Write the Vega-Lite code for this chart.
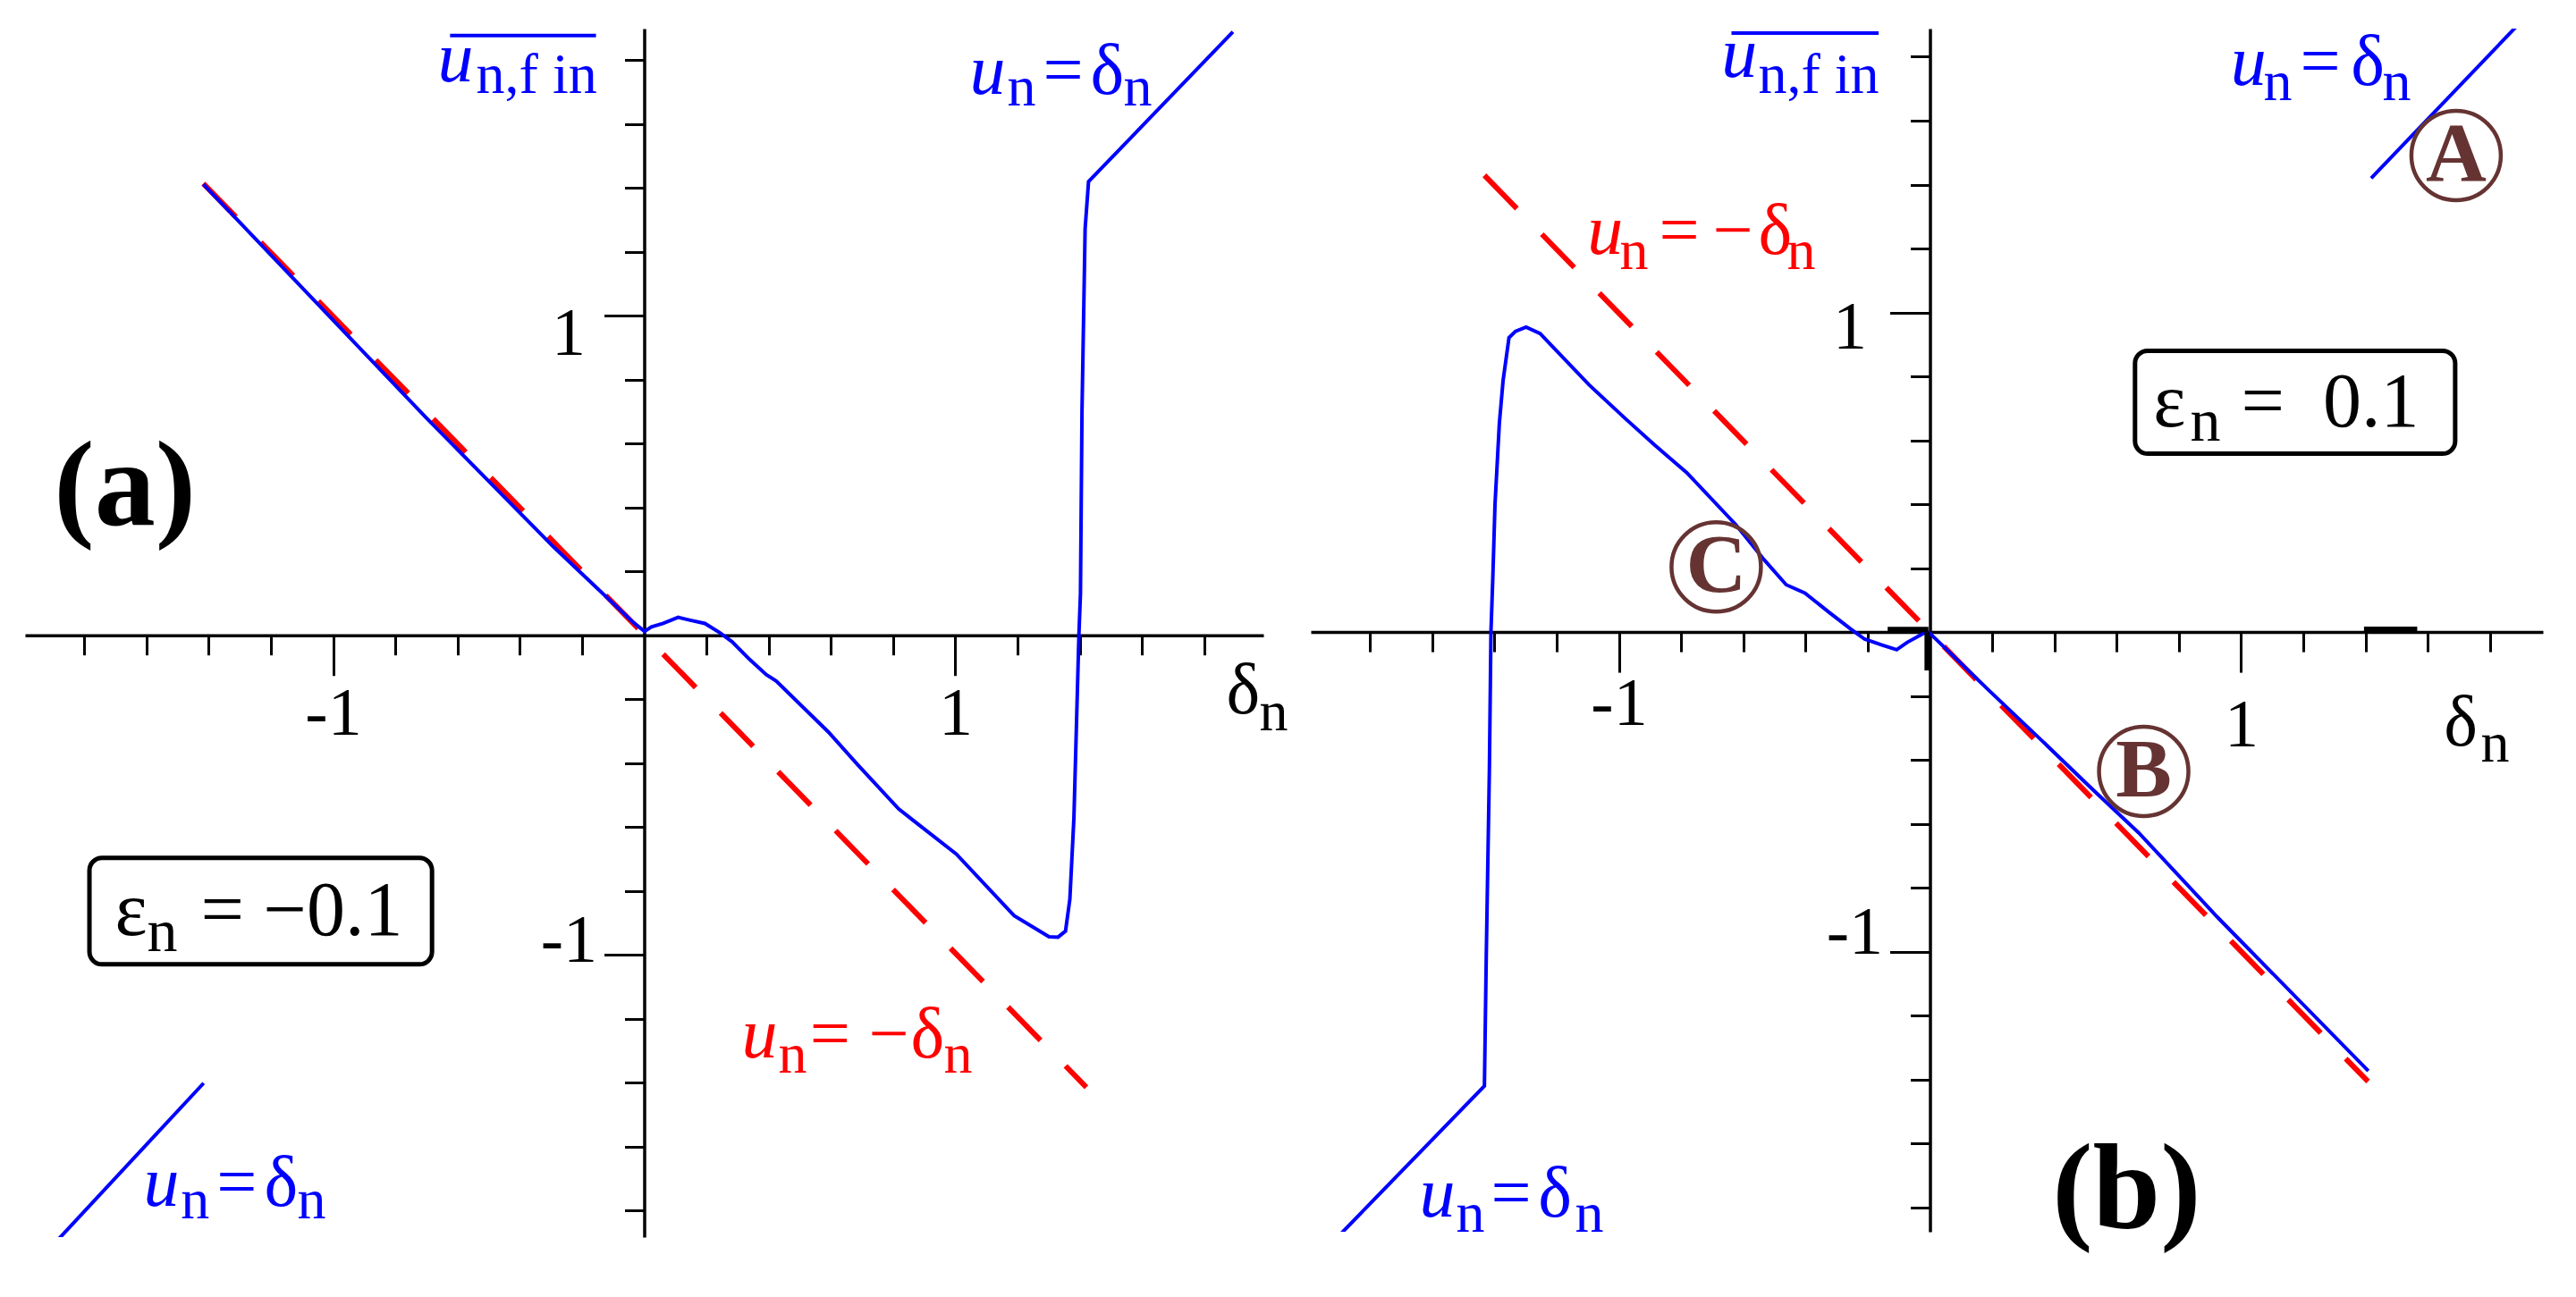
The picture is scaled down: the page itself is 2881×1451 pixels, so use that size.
{
  "$schema": "https://vega.github.io/schema/vega-lite/v6.json",
  "background": "white",
  "padding": {"left": 28, "top": 4, "right": 5, "bottom": 5},
  "spacing": 53,
  "bounds": "flush",
  "config": {
    "view": {"stroke": null},
    "axis": {"domainColor": "#000000", "domainWidth": 3.5, "tickColor": "#000000", "tickWidth": 3, "labelFont": "Liberation Serif", "labelFontSize": 76, "labelColor": "#000000", "labelOverlap": false, "labelBound": false, "labelFlush": false, "grid": false},
    "text": {"font": "Liberation Serif"}
  },
  "datasets": {
    "curves": [
      {"p": "a", "s": "a1", "i": 1, "d": -1.417, "u": 1.412},
      {"p": "a", "s": "a1", "i": 2, "d": -0.7, "u": 0.68},
      {"p": "a", "s": "a1", "i": 3, "d": -0.293, "u": 0.278},
      {"p": "a", "s": "a1", "i": 4, "d": -0.035, "u": 0.04},
      {"p": "a", "s": "a1", "i": 5, "d": 0.001, "u": 0.012},
      {"p": "a", "s": "a1", "i": 6, "d": 0.023, "u": 0.026},
      {"p": "a", "s": "a1", "i": 7, "d": 0.061, "u": 0.037},
      {"p": "a", "s": "a1", "i": 8, "d": 0.109, "u": 0.056},
      {"p": "a", "s": "a1", "i": 9, "d": 0.148, "u": 0.047},
      {"p": "a", "s": "a1", "i": 10, "d": 0.195, "u": 0.037},
      {"p": "a", "s": "a1", "i": 11, "d": 0.243, "u": 0.008},
      {"p": "a", "s": "a1", "i": 12, "d": 0.282, "u": -0.02},
      {"p": "a", "s": "a1", "i": 13, "d": 0.339, "u": -0.076},
      {"p": "a", "s": "a1", "i": 14, "d": 0.392, "u": -0.123},
      {"p": "a", "s": "a1", "i": 15, "d": 0.424, "u": -0.143},
      {"p": "a", "s": "a1", "i": 16, "d": 0.592, "u": -0.303},
      {"p": "a", "s": "a1", "i": 17, "d": 0.685, "u": -0.404},
      {"p": "a", "s": "a1", "i": 18, "d": 0.818, "u": -0.544},
      {"p": "a", "s": "a1", "i": 19, "d": 1.003, "u": -0.685},
      {"p": "a", "s": "a1", "i": 20, "d": 1.189, "u": -0.878},
      {"p": "a", "s": "a1", "i": 21, "d": 1.301, "u": -0.944},
      {"p": "a", "s": "a1", "i": 22, "d": 1.33, "u": -0.945},
      {"p": "a", "s": "a1", "i": 23, "d": 1.354, "u": -0.926},
      {"p": "a", "s": "a1", "i": 24, "d": 1.368, "u": -0.826},
      {"p": "a", "s": "a1", "i": 25, "d": 1.381, "u": -0.571},
      {"p": "a", "s": "a1", "i": 26, "d": 1.397, "u": 0.0},
      {"p": "a", "s": "a1", "i": 27, "d": 1.402, "u": 0.129},
      {"p": "a", "s": "a1", "i": 28, "d": 1.407, "u": 0.704},
      {"p": "a", "s": "a1", "i": 29, "d": 1.417, "u": 1.273},
      {"p": "a", "s": "a1", "i": 30, "d": 1.428, "u": 1.42},
      {"p": "a", "s": "a1", "i": 31, "d": 1.892, "u": 1.889},
      {"p": "a", "s": "a2", "i": 1, "d": -1.883, "u": -1.891},
      {"p": "a", "s": "a2", "i": 2, "d": -1.416, "u": -1.402},
      {"p": "b", "s": "b1", "i": 1, "d": -1.896, "u": -1.885},
      {"p": "b", "s": "b1", "i": 2, "d": -1.432, "u": -1.42},
      {"p": "b", "s": "b1", "i": 3, "d": -1.426, "u": -1.011},
      {"p": "b", "s": "b1", "i": 4, "d": -1.416, "u": -0.429},
      {"p": "b", "s": "b1", "i": 5, "d": -1.411, "u": 0.0},
      {"p": "b", "s": "b1", "i": 6, "d": -1.405, "u": 0.171},
      {"p": "b", "s": "b1", "i": 7, "d": -1.398, "u": 0.399},
      {"p": "b", "s": "b1", "i": 8, "d": -1.384, "u": 0.653},
      {"p": "b", "s": "b1", "i": 9, "d": -1.372, "u": 0.787},
      {"p": "b", "s": "b1", "i": 10, "d": -1.353, "u": 0.921},
      {"p": "b", "s": "b1", "i": 11, "d": -1.332, "u": 0.941},
      {"p": "b", "s": "b1", "i": 12, "d": -1.298, "u": 0.954},
      {"p": "b", "s": "b1", "i": 13, "d": -1.253, "u": 0.934},
      {"p": "b", "s": "b1", "i": 14, "d": -1.201, "u": 0.881},
      {"p": "b", "s": "b1", "i": 15, "d": -1.096, "u": 0.774},
      {"p": "b", "s": "b1", "i": 16, "d": -0.978, "u": 0.667},
      {"p": "b", "s": "b1", "i": 17, "d": -0.886, "u": 0.586},
      {"p": "b", "s": "b1", "i": 18, "d": -0.782, "u": 0.499},
      {"p": "b", "s": "b1", "i": 19, "d": -0.624, "u": 0.336},
      {"p": "b", "s": "b1", "i": 20, "d": -0.532, "u": 0.225},
      {"p": "b", "s": "b1", "i": 21, "d": -0.462, "u": 0.148},
      {"p": "b", "s": "b1", "i": 22, "d": -0.402, "u": 0.122},
      {"p": "b", "s": "b1", "i": 23, "d": -0.323, "u": 0.061},
      {"p": "b", "s": "b1", "i": 24, "d": -0.255, "u": 0.01},
      {"p": "b", "s": "b1", "i": 25, "d": -0.21, "u": -0.022},
      {"p": "b", "s": "b1", "i": 26, "d": -0.152, "u": -0.041},
      {"p": "b", "s": "b1", "i": 27, "d": -0.107, "u": -0.055},
      {"p": "b", "s": "b1", "i": 28, "d": -0.073, "u": -0.032},
      {"p": "b", "s": "b1", "i": 29, "d": -0.011, "u": 0.001},
      {"p": "b", "s": "b1", "i": 30, "d": 0.0, "u": -0.004},
      {"p": "b", "s": "b1", "i": 31, "d": 0.188, "u": -0.181},
      {"p": "b", "s": "b1", "i": 32, "d": 0.359, "u": -0.339},
      {"p": "b", "s": "b1", "i": 33, "d": 0.529, "u": -0.498},
      {"p": "b", "s": "b1", "i": 34, "d": 0.671, "u": -0.628},
      {"p": "b", "s": "b1", "i": 35, "d": 0.923, "u": -0.891},
      {"p": "b", "s": "b1", "i": 36, "d": 1.409, "u": -1.373},
      {"p": "b", "s": "b2", "i": 1, "d": 1.418, "u": 1.42},
      {"p": "b", "s": "b2", "i": 2, "d": 1.89, "u": 1.9}
    ],
    "red": [
      {"p": "a", "i": 1, "d": -1.417, "u": 1.414},
      {"p": "a", "i": 2, "d": 1.421, "u": -1.415},
      {"p": "b", "i": 1, "d": -1.432, "u": 1.429},
      {"p": "b", "i": 2, "d": 1.408, "u": -1.406}
    ],
    "marks": [
      {"p": "b", "s": "h1", "i": 1, "d": -0.136, "u": 0.008},
      {"p": "b", "s": "h1", "i": 2, "d": -0.005, "u": 0.008},
      {"p": "b", "s": "v1", "i": 1, "d": -0.009, "u": 0.0},
      {"p": "b", "s": "v1", "i": 2, "d": -0.009, "u": -0.12},
      {"p": "b", "s": "h2", "i": 1, "d": 1.395, "u": 0.009},
      {"p": "b", "s": "h2", "i": 2, "d": 1.566, "u": 0.009}
    ],
    "boxes": [
      {"p": "a", "x": -1.783, "x2": -0.682, "y": -0.697, "y2": -1.03},
      {"p": "b", "x": 0.659, "x2": 1.688, "y": 0.88, "y2": 0.558}
    ],
    "overlines": [
      {"p": "a", "x": -0.624, "x2": -0.155, "y": 1.877},
      {"p": "b", "x": -0.638, "x2": -0.165, "y": 1.874}
    ],
    "texts": [
      {"p": "a", "f": "it", "r": "main", "g": "curve", "t": "u", "x": -0.664, "y": 1.734},
      {"p": "a", "f": "rm", "r": "sub", "g": "curve", "t": "n,f in", "x": -0.54, "y": 1.698},
      {"p": "a", "f": "it", "r": "main", "g": "curve", "t": "u", "x": 1.046, "y": 1.695},
      {"p": "a", "f": "rm", "r": "sub", "g": "curve", "t": "n", "x": 1.167, "y": 1.659},
      {"p": "a", "f": "rm", "r": "main", "g": "curve", "t": "=", "x": 1.282, "y": 1.695},
      {"p": "a", "f": "rm", "r": "main", "g": "curve", "t": "δ", "x": 1.434, "y": 1.695},
      {"p": "a", "f": "rm", "r": "sub", "g": "curve", "t": "n", "x": 1.54, "y": 1.659},
      {"p": "a", "f": "it", "r": "main", "g": "curve", "t": "u", "x": -1.609, "y": -1.785},
      {"p": "a", "f": "rm", "r": "sub", "g": "curve", "t": "n", "x": -1.489, "y": -1.824},
      {"p": "a", "f": "rm", "r": "main", "g": "curve", "t": "=", "x": -1.374, "y": -1.785},
      {"p": "a", "f": "rm", "r": "main", "g": "curve", "t": "δ", "x": -1.221, "y": -1.785},
      {"p": "a", "f": "rm", "r": "sub", "g": "curve", "t": "n", "x": -1.115, "y": -1.824},
      {"p": "a", "f": "it", "r": "main", "g": "minus", "t": "u", "x": 0.313, "y": -1.322},
      {"p": "a", "f": "rm", "r": "sub", "g": "minus", "t": "n", "x": 0.431, "y": -1.368},
      {"p": "a", "f": "rm", "r": "main", "g": "minus", "t": "=", "x": 0.532, "y": -1.322},
      {"p": "a", "f": "rm", "r": "main", "g": "minus", "t": "−", "x": 0.721, "y": -1.322},
      {"p": "a", "f": "rm", "r": "main", "g": "minus", "t": "δ", "x": 0.856, "y": -1.322},
      {"p": "a", "f": "rm", "r": "sub", "g": "minus", "t": "n", "x": 0.963, "y": -1.368},
      {"p": "a", "f": "rm", "r": "main", "g": "note", "t": "δ", "x": 1.871, "y": -0.243},
      {"p": "a", "f": "rm", "r": "sub", "g": "note", "t": "n", "x": 1.977, "y": -0.297},
      {"p": "a", "f": "rm", "r": "box", "g": "note", "t": "ε", "x": -1.701, "y": -0.939},
      {"p": "a", "f": "rm", "r": "boxsub", "g": "note", "t": "n", "x": -1.598, "y": -0.99},
      {"p": "a", "f": "rm", "r": "box", "g": "note", "t": "= −0.1", "x": -1.425, "y": -0.939},
      {"p": "a", "f": "bf", "r": "big", "g": "note", "t": "(a)", "x": -1.897, "y": 0.345},
      {"p": "b", "f": "it", "r": "main", "g": "curve", "t": "u", "x": -0.67, "y": 1.737},
      {"p": "b", "f": "rm", "r": "sub", "g": "curve", "t": "n,f in", "x": -0.552, "y": 1.687},
      {"p": "b", "f": "it", "r": "main", "g": "curve", "t": "u", "x": 0.966, "y": 1.712},
      {"p": "b", "f": "rm", "r": "sub", "g": "curve", "t": "n", "x": 1.072, "y": 1.665},
      {"p": "b", "f": "rm", "r": "main", "g": "curve", "t": "=", "x": 1.19, "y": 1.712},
      {"p": "b", "f": "rm", "r": "main", "g": "curve", "t": "δ", "x": 1.353, "y": 1.712},
      {"p": "b", "f": "rm", "r": "sub", "g": "curve", "t": "n", "x": 1.454, "y": 1.665},
      {"p": "b", "f": "it", "r": "main", "g": "curve", "t": "u", "x": -1.641, "y": -1.828},
      {"p": "b", "f": "rm", "r": "sub", "g": "curve", "t": "n", "x": -1.523, "y": -1.876},
      {"p": "b", "f": "rm", "r": "main", "g": "curve", "t": "=", "x": -1.411, "y": -1.828},
      {"p": "b", "f": "rm", "r": "main", "g": "curve", "t": "δ", "x": -1.259, "y": -1.828},
      {"p": "b", "f": "rm", "r": "sub", "g": "curve", "t": "n", "x": -1.141, "y": -1.876},
      {"p": "b", "f": "it", "r": "main", "g": "minus", "t": "u", "x": -1.101, "y": 1.182},
      {"p": "b", "f": "rm", "r": "sub", "g": "minus", "t": "n", "x": -0.997, "y": 1.136},
      {"p": "b", "f": "rm", "r": "main", "g": "minus", "t": "=", "x": -0.871, "y": 1.182},
      {"p": "b", "f": "rm", "r": "main", "g": "minus", "t": "−", "x": -0.698, "y": 1.182},
      {"p": "b", "f": "rm", "r": "main", "g": "minus", "t": "δ", "x": -0.552, "y": 1.182},
      {"p": "b", "f": "rm", "r": "sub", "g": "minus", "t": "n", "x": -0.46, "y": 1.136},
      {"p": "b", "f": "rm", "r": "main", "g": "note", "t": "δ", "x": 1.652, "y": -0.355},
      {"p": "b", "f": "rm", "r": "sub", "g": "note", "t": "n", "x": 1.77, "y": -0.406},
      {"p": "b", "f": "rm", "r": "box", "g": "note", "t": "ε", "x": 0.718, "y": 0.644},
      {"p": "b", "f": "rm", "r": "boxsub", "g": "note", "t": "n", "x": 0.836, "y": 0.599},
      {"p": "b", "f": "rm", "r": "box", "g": "note", "t": "=\u00a0\u00a00.1", "x": 1.0, "y": 0.644},
      {"p": "b", "f": "bf", "r": "big", "g": "note", "t": "(b)", "x": 0.393, "y": -1.863},
      {"p": "b", "f": "mk", "r": "mark", "g": "mark", "t": "A", "x": 1.691, "y": 1.491},
      {"p": "b", "f": "mk", "r": "mark", "g": "mark", "t": "C", "x": -0.687, "y": 0.204},
      {"p": "b", "f": "mk", "r": "mark", "g": "mark", "t": "B", "x": 0.687, "y": -0.436}
    ]
  },
  "hconcat": [
    {
      "width": 1385,
      "height": 1352,
      "layer": [
        {
          "data": {"name": "red"},
          "transform": [{"filter": "datum.p == 'a'"}],
          "mark": {"type": "line", "color": "#ff0000", "strokeWidth": 6, "strokeDash": [52, 40], "clip": true},
          "encoding": {
            "x": {"field": "d", "type": "quantitative", "scale": {"domain": [-1.99, 1.99], "nice": false, "zero": false},
              "axis": {"orient": "bottom", "offset": -673.3, "values": [-1.8, -1.6, -1.4, -1.2, -1, -0.8, -0.6, -0.4, -0.2, 0.2, 0.4, 0.6, 0.8, 1, 1.2, 1.4, 1.6, 1.8],
                "tickSize": {"condition": {"test": "abs(datum.value) == 1", "value": 45}, "value": 22},
                "labelExpr": "datum.value == 1 ? '1' : (datum.value == -1 ? '-1' : '')", "labelPadding": 6, "title": null}},
            "y": {"field": "u", "type": "quantitative", "scale": {"domain": [-1.884, 1.899], "nice": false, "zero": false},
              "axis": {"orient": "left", "offset": -692.5, "values": [-1.8, -1.6, -1.4, -1.2, -1, -0.8, -0.6, -0.4, -0.2, 0.2, 0.4, 0.6, 0.8, 1, 1.2, 1.4, 1.6, 1.8],
                "tickSize": {"condition": {"test": "abs(datum.value) == 1", "value": 45}, "value": 22},
                "labelExpr": "datum.value == 1 ? '1' : (datum.value == -1 ? '-1' : '')",
                "labelBaseline": "alphabetic",
                "labelOffset": {"condition": {"test": "datum.value == 1", "value": 43}, "value": 7},
                "labelPadding": {"condition": {"test": "datum.value == 1", "value": 21}, "value": 8},
                "title": null}},
            "order": {"field": "i", "type": "quantitative"}
          }
        },
        {
          "data": {"name": "boxes"},
          "transform": [{"filter": "datum.p == 'a'"}],
          "mark": {"type": "rect", "fill": "white", "stroke": "#000000", "strokeWidth": 5, "cornerRadius": 14},
          "encoding": {
            "x": {"field": "x", "type": "quantitative", "scale": {"domain": [-1.99, 1.99], "nice": false, "zero": false}},
            "x2": {"field": "x2"},
            "y": {"field": "y", "type": "quantitative", "scale": {"domain": [-1.884, 1.899], "nice": false, "zero": false}},
            "y2": {"field": "y2"}
          }
        },
        {
          "data": {"name": "curves"},
          "transform": [{"filter": "datum.p == 'a'"}],
          "mark": {"type": "line", "color": "#0000ff", "strokeWidth": 4, "clip": true},
          "encoding": {
            "x": {"field": "d", "type": "quantitative", "scale": {"domain": [-1.99, 1.99], "nice": false, "zero": false}},
            "y": {"field": "u", "type": "quantitative", "scale": {"domain": [-1.884, 1.899], "nice": false, "zero": false}},
            "detail": {"field": "s"},
            "order": {"field": "i", "type": "quantitative"}
          }
        },
        {
          "data": {"name": "overlines"},
          "transform": [{"filter": "datum.p == 'a'"}],
          "mark": {"type": "rule", "color": "#0000ff", "strokeWidth": 4},
          "encoding": {
            "x": {"field": "x", "type": "quantitative", "scale": {"domain": [-1.99, 1.99], "nice": false, "zero": false}},
            "x2": {"field": "x2"},
            "y": {"field": "y", "type": "quantitative", "scale": {"domain": [-1.884, 1.899], "nice": false, "zero": false}}
          }
        },
        {
          "data": {"name": "texts"},
          "transform": [{"filter": "datum.p == 'a' && datum.f == 'it'"}],
          "mark": {"type": "text", "font": "Liberation Serif", "fontStyle": "italic", "align": "left", "baseline": "alphabetic"},
          "encoding": {
            "x": {"field": "x", "type": "quantitative", "scale": {"domain": [-1.99, 1.99], "nice": false, "zero": false}},
            "y": {"field": "y", "type": "quantitative", "scale": {"domain": [-1.884, 1.899], "nice": false, "zero": false}},
            "text": {"field": "t"},
            "size": {"field": "r", "type": "nominal", "scale": {"type": "ordinal", "domain": ["main", "sub", "box", "boxsub", "big", "mark"], "range": [80, 64, 86, 68, 136, 94]}, "legend": null},
            "color": {"field": "g", "type": "nominal", "scale": {"domain": ["curve", "minus", "note", "mark"], "range": ["#0000ff", "#ff0000", "#000000", "#663333"]}, "legend": null}
          }
        },
        {
          "data": {"name": "texts"},
          "transform": [{"filter": "datum.p == 'a' && datum.f == 'rm'"}],
          "mark": {"type": "text", "font": "Liberation Serif", "align": "left", "baseline": "alphabetic"},
          "encoding": {
            "x": {"field": "x", "type": "quantitative", "scale": {"domain": [-1.99, 1.99], "nice": false, "zero": false}},
            "y": {"field": "y", "type": "quantitative", "scale": {"domain": [-1.884, 1.899], "nice": false, "zero": false}},
            "text": {"field": "t"},
            "size": {"field": "r", "type": "nominal", "scale": {"type": "ordinal", "domain": ["main", "sub", "box", "boxsub", "big", "mark"], "range": [80, 64, 86, 68, 136, 94]}, "legend": null},
            "color": {"field": "g", "type": "nominal", "scale": {"domain": ["curve", "minus", "note", "mark"], "range": ["#0000ff", "#ff0000", "#000000", "#663333"]}, "legend": null}
          }
        },
        {
          "data": {"name": "texts"},
          "transform": [{"filter": "datum.p == 'a' && datum.f == 'bf'"}],
          "mark": {"type": "text", "font": "Liberation Serif", "fontWeight": "bold", "align": "left", "baseline": "alphabetic"},
          "encoding": {
            "x": {"field": "x", "type": "quantitative", "scale": {"domain": [-1.99, 1.99], "nice": false, "zero": false}},
            "y": {"field": "y", "type": "quantitative", "scale": {"domain": [-1.884, 1.899], "nice": false, "zero": false}},
            "text": {"field": "t"},
            "size": {"field": "r", "type": "nominal", "scale": {"type": "ordinal", "domain": ["main", "sub", "box", "boxsub", "big", "mark"], "range": [80, 64, 86, 68, 136, 94]}, "legend": null},
            "color": {"field": "g", "type": "nominal", "scale": {"domain": ["curve", "minus", "note", "mark"], "range": ["#0000ff", "#ff0000", "#000000", "#663333"]}, "legend": null}
          }
        }
      ]
    },
    {
      "width": 1378,
      "height": 1346,
      "layer": [
        {
          "data": {"name": "red"},
          "transform": [{"filter": "datum.p == 'b'"}],
          "mark": {"type": "line", "color": "#ff0000", "strokeWidth": 6, "strokeDash": [52, 40], "clip": true},
          "encoding": {
            "x": {"field": "d", "type": "quantitative", "scale": {"domain": [-1.99, 1.97], "nice": false, "zero": false},
              "axis": {"orient": "bottom", "offset": -670.9, "values": [-1.8, -1.6, -1.4, -1.2, -1, -0.8, -0.6, -0.4, -0.2, 0.2, 0.4, 0.6, 0.8, 1, 1.2, 1.4, 1.6, 1.8],
                "tickSize": {"condition": {"test": "abs(datum.value) == 1", "value": 45}, "value": 22},
                "labelExpr": "datum.value == 1 ? '1' : (datum.value == -1 ? '-1' : '')",
                "labelPadding": {"condition": {"test": "datum.value == 1", "value": 22}, "value": -2},
                "title": null}},
            "y": {"field": "u", "type": "quantitative", "scale": {"domain": [-1.876, 1.888], "nice": false, "zero": false},
              "axis": {"orient": "left", "offset": -692.5, "values": [-1.8, -1.6, -1.4, -1.2, -1, -0.8, -0.6, -0.4, -0.2, 0.2, 0.4, 0.6, 0.8, 1, 1.2, 1.4, 1.6, 1.8],
                "tickSize": {"condition": {"test": "abs(datum.value) == 1", "value": 45}, "value": 22},
                "labelExpr": "datum.value == 1 ? '1' : (datum.value == -1 ? '-1' : '')",
                "labelBaseline": "alphabetic",
                "labelOffset": {"condition": {"test": "datum.value == 1", "value": 40}, "value": 2},
                "labelPadding": {"condition": {"test": "datum.value == 1", "value": 26}, "value": 8},
                "title": null}},
            "order": {"field": "i", "type": "quantitative"}
          }
        },
        {
          "data": {"name": "boxes"},
          "transform": [{"filter": "datum.p == 'b'"}],
          "mark": {"type": "rect", "fill": "white", "stroke": "#000000", "strokeWidth": 5, "cornerRadius": 14},
          "encoding": {
            "x": {"field": "x", "type": "quantitative", "scale": {"domain": [-1.99, 1.97], "nice": false, "zero": false}},
            "x2": {"field": "x2"},
            "y": {"field": "y", "type": "quantitative", "scale": {"domain": [-1.876, 1.888], "nice": false, "zero": false}},
            "y2": {"field": "y2"}
          }
        },
        {
          "data": {"name": "curves"},
          "transform": [{"filter": "datum.p == 'b'"}],
          "mark": {"type": "line", "color": "#0000ff", "strokeWidth": 4, "clip": true},
          "encoding": {
            "x": {"field": "d", "type": "quantitative", "scale": {"domain": [-1.99, 1.97], "nice": false, "zero": false}},
            "y": {"field": "u", "type": "quantitative", "scale": {"domain": [-1.876, 1.888], "nice": false, "zero": false}},
            "detail": {"field": "s"},
            "order": {"field": "i", "type": "quantitative"}
          }
        },
        {
          "data": {"name": "marks"},
          "transform": [{"filter": "datum.p == 'b'"}],
          "mark": {"type": "line", "color": "#000000", "strokeWidth": 6, "clip": true},
          "encoding": {
            "x": {"field": "d", "type": "quantitative", "scale": {"domain": [-1.99, 1.97], "nice": false, "zero": false}},
            "y": {"field": "u", "type": "quantitative", "scale": {"domain": [-1.876, 1.888], "nice": false, "zero": false}},
            "detail": {"field": "s"},
            "order": {"field": "i", "type": "quantitative"}
          }
        },
        {
          "data": {"name": "overlines"},
          "transform": [{"filter": "datum.p == 'b'"}],
          "mark": {"type": "rule", "color": "#0000ff", "strokeWidth": 4},
          "encoding": {
            "x": {"field": "x", "type": "quantitative", "scale": {"domain": [-1.99, 1.97], "nice": false, "zero": false}},
            "x2": {"field": "x2"},
            "y": {"field": "y", "type": "quantitative", "scale": {"domain": [-1.876, 1.888], "nice": false, "zero": false}}
          }
        },
        {
          "data": {"name": "texts"},
          "transform": [{"filter": "datum.p == 'b' && datum.f == 'mk'"}],
          "mark": {"type": "point", "shape": "circle", "size": 10000, "filled": false, "stroke": "#663333", "strokeWidth": 4.5, "opacity": 1},
          "encoding": {
            "x": {"field": "x", "type": "quantitative", "scale": {"domain": [-1.99, 1.97], "nice": false, "zero": false}},
            "y": {"field": "y", "type": "quantitative", "scale": {"domain": [-1.876, 1.888], "nice": false, "zero": false}}
          }
        },
        {
          "data": {"name": "texts"},
          "transform": [{"filter": "datum.p == 'b' && datum.f == 'mk'"}],
          "mark": {"type": "text", "font": "Liberation Serif", "fontWeight": "bold", "align": "center", "baseline": "middle"},
          "encoding": {
            "x": {"field": "x", "type": "quantitative", "scale": {"domain": [-1.99, 1.97], "nice": false, "zero": false}},
            "y": {"field": "y", "type": "quantitative", "scale": {"domain": [-1.876, 1.888], "nice": false, "zero": false}},
            "text": {"field": "t"},
            "size": {"field": "r", "type": "nominal", "scale": {"type": "ordinal", "domain": ["main", "sub", "box", "boxsub", "big", "mark"], "range": [80, 64, 86, 68, 136, 94]}, "legend": null},
            "color": {"field": "g", "type": "nominal", "scale": {"domain": ["curve", "minus", "note", "mark"], "range": ["#0000ff", "#ff0000", "#000000", "#663333"]}, "legend": null}
          }
        },
        {
          "data": {"name": "texts"},
          "transform": [{"filter": "datum.p == 'b' && datum.f == 'it'"}],
          "mark": {"type": "text", "font": "Liberation Serif", "fontStyle": "italic", "align": "left", "baseline": "alphabetic"},
          "encoding": {
            "x": {"field": "x", "type": "quantitative", "scale": {"domain": [-1.99, 1.97], "nice": false, "zero": false}},
            "y": {"field": "y", "type": "quantitative", "scale": {"domain": [-1.876, 1.888], "nice": false, "zero": false}},
            "text": {"field": "t"},
            "size": {"field": "r", "type": "nominal", "scale": {"type": "ordinal", "domain": ["main", "sub", "box", "boxsub", "big", "mark"], "range": [80, 64, 86, 68, 136, 94]}, "legend": null},
            "color": {"field": "g", "type": "nominal", "scale": {"domain": ["curve", "minus", "note", "mark"], "range": ["#0000ff", "#ff0000", "#000000", "#663333"]}, "legend": null}
          }
        },
        {
          "data": {"name": "texts"},
          "transform": [{"filter": "datum.p == 'b' && datum.f == 'rm'"}],
          "mark": {"type": "text", "font": "Liberation Serif", "align": "left", "baseline": "alphabetic"},
          "encoding": {
            "x": {"field": "x", "type": "quantitative", "scale": {"domain": [-1.99, 1.97], "nice": false, "zero": false}},
            "y": {"field": "y", "type": "quantitative", "scale": {"domain": [-1.876, 1.888], "nice": false, "zero": false}},
            "text": {"field": "t"},
            "size": {"field": "r", "type": "nominal", "scale": {"type": "ordinal", "domain": ["main", "sub", "box", "boxsub", "big", "mark"], "range": [80, 64, 86, 68, 136, 94]}, "legend": null},
            "color": {"field": "g", "type": "nominal", "scale": {"domain": ["curve", "minus", "note", "mark"], "range": ["#0000ff", "#ff0000", "#000000", "#663333"]}, "legend": null}
          }
        },
        {
          "data": {"name": "texts"},
          "transform": [{"filter": "datum.p == 'b' && datum.f == 'bf'"}],
          "mark": {"type": "text", "font": "Liberation Serif", "fontWeight": "bold", "align": "left", "baseline": "alphabetic"},
          "encoding": {
            "x": {"field": "x", "type": "quantitative", "scale": {"domain": [-1.99, 1.97], "nice": false, "zero": false}},
            "y": {"field": "y", "type": "quantitative", "scale": {"domain": [-1.876, 1.888], "nice": false, "zero": false}},
            "text": {"field": "t"},
            "size": {"field": "r", "type": "nominal", "scale": {"type": "ordinal", "domain": ["main", "sub", "box", "boxsub", "big", "mark"], "range": [80, 64, 86, 68, 136, 94]}, "legend": null},
            "color": {"field": "g", "type": "nominal", "scale": {"domain": ["curve", "minus", "note", "mark"], "range": ["#0000ff", "#ff0000", "#000000", "#663333"]}, "legend": null}
          }
        }
      ]
    }
  ]
}
